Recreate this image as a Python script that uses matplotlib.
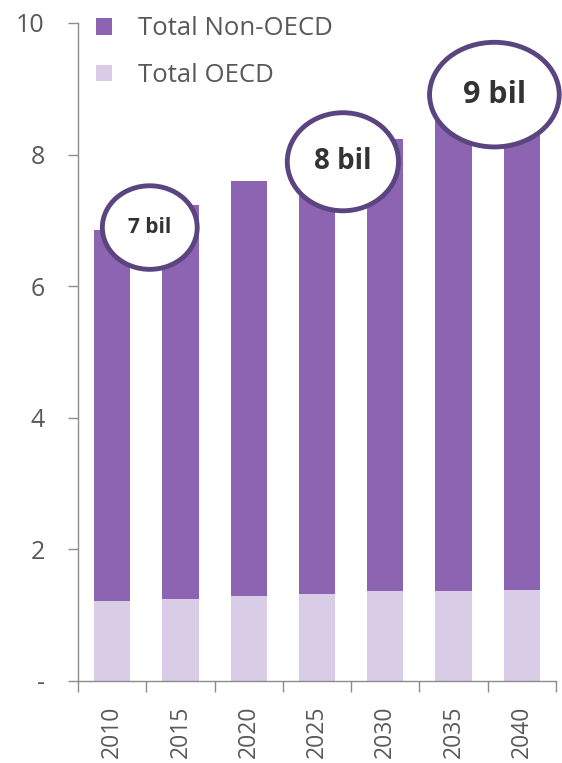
import matplotlib.pyplot as plt
from matplotlib.patches import Ellipse

years = ["2010", "2015", "2020", "2025", "2030", "2035", "2040"]
oecd = [1.22, 1.25, 1.29, 1.32, 1.36, 1.37, 1.39]
total = [6.86, 7.24, 7.60, 7.95, 8.24, 8.55, 8.85]
non_oecd = [t - o for t, o in zip(total, oecd)]

callouts = ["7 bil", "8 bil", "9 bil"]
# callout bubble layout: (x, y, width, height, fontsize)
callout_pos = [(0.55, 6.89, 1.39, 1.27, 15),
               (3.38, 7.89, 1.63, 1.49, 20),
               (5.60, 8.91, 1.90, 1.59, 22)]

C_NON = "#8C64B1"
C_OECD = "#D9CCE6"
C_RING = "#5B4581"
GREY = "#595959"

plt.rcParams["font.family"] = ["Open Sans", "DejaVu Sans"]

fig = plt.figure(figsize=(5.62, 7.63), dpi=100)
ax = fig.add_axes([0.139, 0.1075, 0.850, 0.8625])

x = list(range(len(years)))
ax.bar(x, oecd, width=0.53, color=C_OECD, label="Total OECD", zorder=2)
ax.bar(x, non_oecd, bottom=oecd, width=0.53, color=C_NON, label="Total Non-OECD", zorder=2)

ax.set_xlim(-0.5, len(years) - 0.5)
ax.set_ylim(0, 10)
ax.set_yticks([0, 2, 4, 6, 8, 10])
ax.set_yticklabels(["-", "2", "4", "6", "8", "10"])
ax.set_xticks(x)
ax.set_xticklabels(years, rotation=90)
ax.set_xticks([i - 0.5 for i in range(len(years) + 1)], minor=True)

ax.tick_params(axis="x", which="major", length=0, pad=18, labelsize=16.5, labelcolor=GREY)
ax.tick_params(axis="x", which="minor", length=8, width=1, color="#8C8C8C", direction="out")
ax.tick_params(axis="y", length=7, width=1, color="#8C8C8C", pad=17, labelsize=18, labelcolor=GREY)

for s in ["top", "right"]:
    ax.spines[s].set_visible(False)
for s in ["left", "bottom"]:
    ax.spines[s].set_color("#8C8C8C")
    ax.spines[s].set_linewidth(1)

for txt, (cx, cy, w, h, fs) in zip(callouts, callout_pos):
    e = Ellipse((cx, cy), w, h, facecolor="white", edgecolor=C_RING, linewidth=3.5,
                zorder=5, clip_on=False)
    ax.add_patch(e)
    ax.text(cx, cy, txt, ha="center", va="center", fontsize=fs, fontweight="bold",
            color="#333333", zorder=6)

handles, labels = ax.get_legend_handles_labels()
leg = ax.legend(handles[::-1], labels[::-1], loc="upper left", bbox_to_anchor=(-0.01, 1.045),
                frameon=False, fontsize=18.5, labelcolor=GREY, handlelength=0.6, handleheight=0.6,
                handletextpad=1.0, labelspacing=0.85)

fig.savefig("out.png", dpi=100)
